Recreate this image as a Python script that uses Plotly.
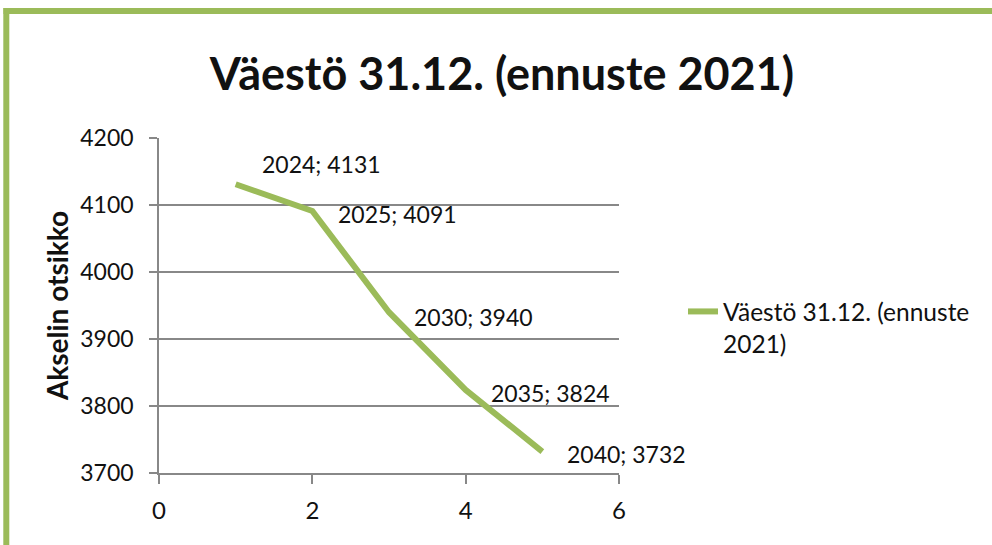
import plotly.graph_objects as go

# Data
x_index = [1, 2, 3, 4, 5]
years = ["2024", "2025", "2030", "2035", "2040"]
population = [4131, 4091, 3940, 3824, 3732]
series_name = "Väestö 31.12. (ennuste<br>2021)"
title_text = "Väestö 31.12. (ennuste 2021)"
y_title = "Akselin otsikko"
x_ticks = [0, 2, 4, 6]
y_ticks = [3700, 3800, 3900, 4000, 4100, 4200]

# label offsets (layout/style only)
label_xshift = [24, 24, 23, 23, 23]
label_yshift = [20, -3, -5, -3, -2]

GREEN = "#9BBB59"
GRID = "#888888"
FONT = "Lato, 'Open Sans', sans-serif"
TXT = "#111111"

fig = go.Figure()
fig.add_trace(go.Scatter(
    x=x_index, y=population, mode="lines", name=series_name,
    line=dict(color=GREEN, width=6),
))

for xi, yv, yr, xs, ys in zip(x_index, population, years, label_xshift, label_yshift):
    fig.add_annotation(
        x=xi, y=yv, xref="x", yref="y",
        text=f"{yr}; {yv}", showarrow=False,
        xanchor="left", yanchor="middle", xshift=xs, yshift=ys,
        font=dict(family=FONT, size=23, color=TXT),
    )

L, R, T, B = 159, 373, 138, 72
W, H = 992, 545
pw, ph = W - L - R, H - T - B

def px_x(p):
    return (p - L) / pw

def px_y(p):
    return (H - B - p) / ph

# green frame (top and left)
fig.add_shape(type="line", xref="paper", yref="paper",
              x0=px_x(3.5), x1=px_x(W + 5), y0=px_y(11), y1=px_y(11),
              line=dict(color=GREEN, width=6))
fig.add_shape(type="line", xref="paper", yref="paper",
              x0=px_x(6.3), x1=px_x(6.3), y0=px_y(8), y1=px_y(H + 5),
              line=dict(color=GREEN, width=6))

fig.update_layout(
    width=W, height=H,
    margin=dict(l=L, r=R, t=T, b=B),
    paper_bgcolor="white", plot_bgcolor="white",
    title=dict(text=f"<b>{title_text}</b>", x=502 / W, xanchor="center",
               y=1 - 74 / H, yanchor="middle", xref="container", yref="container",
               font=dict(family=FONT, size=45, color=TXT)),
    showlegend=True,
    legend=dict(x=px_x(683), y=px_y(289), xanchor="left", yanchor="top",
                valign="top", font=dict(family=FONT, size=24.5, color=TXT),
                bgcolor="rgba(0,0,0,0)"),
    font=dict(family=FONT, color=TXT),
)
fig.update_xaxes(range=[0, 6], tickvals=x_ticks, showgrid=False,
                 showline=True, linecolor=GRID, linewidth=1.5,
                 ticks="outside", ticklen=9, tickcolor=GRID, tickwidth=1.5,
                 ticklabelstandoff=6,
                 tickfont=dict(family=FONT, size=24, color=TXT), zeroline=False)
fig.update_yaxes(range=[3700, 4200], tickvals=y_ticks, showgrid=True,
                 gridcolor=GRID, gridwidth=1.5,
                 showline=True, linecolor=GRID, linewidth=1.5,
                 ticks="outside", ticklen=8, tickcolor=GRID, tickwidth=1.5,
                 ticklabelstandoff=11,
                 tickfont=dict(family=FONT, size=23, color=TXT), zeroline=False,
                 title=dict(text=f"<b>{y_title}</b>", standoff=3,
                            font=dict(family=FONT, size=28, color=TXT)))

fig.write_html("out.html", config={"displayModeBar": False},
               post_script="document.body.style.margin='0';")
